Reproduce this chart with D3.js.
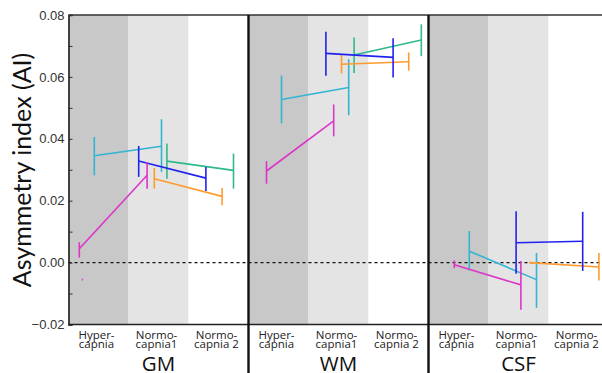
<!DOCTYPE html>
<html>
<head>
<meta charset="utf-8">
<script src="https://d3js.org/d3.v7.min.js"></script>
<style>
  body { margin: 0; background: #fff; }
  svg { display: block; }
</style>
</head>
<body>
<div id="chart"></div>
<script>
// Panels (tissue types) and conditions
const panels = ["GM", "WM", "CSF"];
const conditionLines = [["Hyper-", "capnia"], ["Normo-", "capnia1"], ["Normo-", "capnia 2"]];
const columnFills = ["#c8c8c8", "#e4e4e4", "#ffffff"];

// Each row: panel, x (condition units 0..3), mean, low, high
const magenta = [
  ["GM", 0.18, 0.0045, 0.0016, 0.0066], ["GM", 1.31, 0.0282, 0.0239, 0.0325],
  ["WM", 0.30, 0.0296, 0.0255, 0.0328], ["WM", 1.42, 0.0458, 0.0408, 0.0511],
  ["CSF", 0.43, -0.0007, -0.0018, 0.0007], ["CSF", 1.54, -0.0072, -0.0152, 0.0005]
];
const cyan = [
  ["GM", 0.43, 0.0345, 0.0282, 0.0406], ["GM", 1.55, 0.0376, 0.0293, 0.0463],
  ["WM", 0.55, 0.0527, 0.0450, 0.0604], ["WM", 1.67, 0.0566, 0.0476, 0.0657],
  ["CSF", 0.68, 0.0037, -0.0025, 0.0102], ["CSF", 1.80, -0.0055, -0.0146, 0.0031]
];
const blue = [
  ["GM", 1.17, 0.0328, 0.0277, 0.0377], ["GM", 2.29, 0.0273, 0.0231, 0.0309],
  ["WM", 1.29, 0.0676, 0.0604, 0.0746], ["WM", 2.41, 0.0663, 0.0598, 0.0725],
  ["CSF", 1.46, 0.0064, -0.0036, 0.0166], ["CSF", 2.57, 0.0069, -0.0027, 0.0164]
];
const orange = [
  ["GM", 1.43, 0.0271, 0.0239, 0.0306], ["GM", 2.56, 0.0214, 0.0185, 0.0241],
  ["WM", 1.55, 0.0641, 0.0611, 0.0671], ["WM", 2.67, 0.0649, 0.0620, 0.0679],
  ["CSF", 1.69, 0.0000, -0.0003, 0.0003], ["CSF", 2.84, -0.0014, -0.0058, 0.0031]
];
const green = [
  ["GM", 1.64, 0.0328, 0.0271, 0.0385], ["GM", 2.75, 0.0298, 0.0239, 0.0352],
  ["WM", 1.76, 0.0671, 0.0613, 0.0727], ["WM", 2.88, 0.0719, 0.0667, 0.0770]
];
// stray magenta mark below zero in GM
const strayMarks = [["GM", 0.23, -0.0051, -0.0058]];

const series = [
  { color: "#32b5d3", rows: cyan },
  { color: "#2fb98c", rows: green },
  { color: "#ff9b2e", rows: orange },
  { color: "#2222f0", rows: blue },
  { color: "#dc35c8", rows: magenta }
];

const majorTicks = [-0.02, 0, 0.02, 0.04, 0.06, 0.08];
const minorTicks = d3.range(-2, 9).map(d => d / 100);

const width = 602, height = 373;
const plotTop = 15, plotBottom = 324.5, plotLeft = 68.5, panelW = 180;

const svg = d3.select("#chart").append("svg")
  .attr("width", width)
  .attr("height", height);

const y = d3.scaleLinear().domain([-0.02, 0.08]).range([plotBottom, plotTop]);
const xScales = {};
panels.forEach((p, i) => {
  xScales[p] = d3.scaleLinear().domain([0, 3]).range([plotLeft + i * panelW, plotLeft + (i + 1) * panelW]);
});

// column shading
panels.forEach(p => {
  svg.append("g").selectAll("rect")
    .data(columnFills)
    .join("rect")
    .attr("x", (d, i) => xScales[p](i))
    .attr("y", plotTop)
    .attr("width", xScales[p](1) - xScales[p](0))
    .attr("height", plotBottom - plotTop)
    .attr("fill", d => d);
});

// zero line
svg.append("line")
  .attr("x1", plotLeft).attr("x2", width)
  .attr("y1", y(0)).attr("y2", y(0))
  .attr("stroke", "#111")
  .attr("stroke-width", 1.4)
  .attr("stroke-dasharray", "3,3");

// series: connecting lines + error bars
series.forEach(s => {
  const g = svg.append("g");
  panels.forEach(p => {
    const rows = s.rows.filter(r => r[0] === p);
    if (!rows.length) return;
    const x = xScales[p];
    g.append("path")
      .datum(rows)
      .attr("d", d3.line().x(r => x(r[1])).y(r => y(r[2])))
      .attr("fill", "none")
      .attr("stroke", s.color)
      .attr("stroke-width", 1.6);
    g.selectAll(null)
      .data(rows)
      .join("line")
      .attr("x1", r => x(r[1])).attr("x2", r => x(r[1]))
      .attr("y1", r => y(r[3])).attr("y2", r => y(r[4]))
      .attr("stroke", s.color)
      .attr("stroke-width", 1.6);
  });
});

svg.selectAll(".stray")
  .data(strayMarks)
  .join("line")
  .attr("x1", d => xScales[d[0]](d[1])).attr("x2", d => xScales[d[0]](d[1]))
  .attr("y1", d => y(d[2])).attr("y2", d => y(d[3]))
  .attr("stroke", "#dc35c8")
  .attr("stroke-width", 1.2);

// frame: top line, bottom line
svg.append("line")
  .attr("x1", plotLeft).attr("x2", width).attr("y1", plotTop).attr("y2", plotTop)
  .attr("stroke", "#333").attr("stroke-width", 1.6);
svg.append("line")
  .attr("x1", plotLeft).attr("x2", width).attr("y1", plotBottom).attr("y2", plotBottom)
  .attr("stroke", "#222").attr("stroke-width", 1.5);

// left axis: inward ticks + labels
svg.append("g")
  .attr("transform", `translate(${plotLeft},0)`)
  .call(d3.axisRight(y).tickValues(minorTicks).tickSize(4).tickFormat(""))
  .call(g => g.select(".domain").attr("stroke", "#111").attr("stroke-width", 1.5))
  .call(g => g.selectAll(".tick line").attr("stroke", "#333"));

svg.append("g")
  .attr("transform", `translate(${plotLeft},0)`)
  .call(d3.axisLeft(y).tickValues(majorTicks).tickSize(0).tickPadding(4).tickFormat(d3.format(".2f")))
  .call(g => g.select(".domain").remove())
  .call(g => g.selectAll("text")
    .attr("font-family", "'Liberation Sans', Arial, sans-serif")
    .attr("font-size", 13)
    .attr("fill", "#333"));

// right axis (mostly off-canvas)
svg.append("g")
  .attr("transform", `translate(${plotLeft + 3 * panelW},0)`)
  .call(d3.axisLeft(y).tickValues(minorTicks).tickSize(5).tickFormat(""))
  .call(g => g.select(".domain").attr("stroke", "#111").attr("stroke-width", 1.5))
  .call(g => g.selectAll(".tick line").attr("stroke", "#333"));

// thick panel separators extending down through labels
svg.selectAll(".sep")
  .data(panels.slice(1))
  .join("line")
  .attr("x1", p => xScales[p](0)).attr("x2", p => xScales[p](0))
  .attr("y1", plotTop).attr("y2", height)
  .attr("stroke", "#111")
  .attr("stroke-width", 2.4);

// condition labels and panel titles
panels.forEach(p => {
  const x = xScales[p];
  const lab = svg.append("g")
    .attr("font-family", "'Open Sans', sans-serif")
    .attr("font-size", 11.5)
    .attr("fill", "#222")
    .attr("text-anchor", "middle");
  conditionLines.forEach((lines, i) => {
    const t = lab.append("text").attr("x", x(i + 0.5) - 2).attr("y", 338.5);
    lines.forEach((l, j) => {
      t.append("tspan").attr("x", x(i + 0.5) - 2).attr("dy", j ? 9 : 0).text(l);
    });
  });
  svg.append("text")
    .attr("x", x(1.5))
    .attr("y", 370.5)
    .attr("text-anchor", "middle")
    .attr("font-family", "'Open Sans', sans-serif")
    .attr("font-size", 20.5)
    .attr("fill", "#111")
    .text(p);
});

// y-axis title
svg.append("text")
  .attr("transform", "translate(31,170) rotate(-90)")
  .attr("text-anchor", "middle")
  .attr("font-family", "Lato, 'Open Sans', sans-serif")
  .attr("font-size", 25)
  .attr("fill", "#111")
  .text("Asymmetry index (AI)");
</script>
</body>
</html>
